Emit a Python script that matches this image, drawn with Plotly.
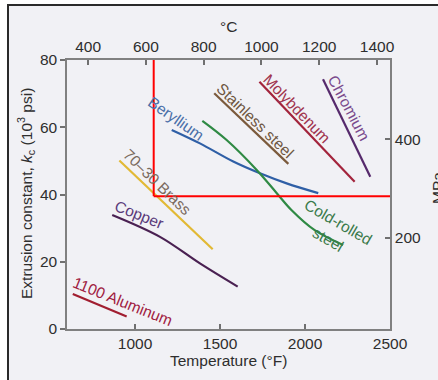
import plotly.graph_objects as go

# ---- data (°F, 10^3 psi) ----
beryllium_F = [1216, 1382, 1578, 1735, 1892, 2078]
beryllium_k = [59.2, 55.2, 49.8, 46.3, 43.3, 40.4]
coldrolled_F = [1396, 1539, 1716, 1834, 1920, 2057, 2224]
coldrolled_k = [61.9, 56.2, 47.3, 40.4, 35.4, 29.4, 25.0]
stainless_F = [1466, 1902]
stainless_k = [70.1, 49.1]
molybdenum_F = [1732, 2292]
molybdenum_k = [73.5, 43.8]
chromium_F = [2106, 2384]
chromium_k = [74.3, 45.3]
brass_F = [908, 1457]
brass_k = [50.1, 23.7]
copper_F = [866, 1147, 1382, 1604]
copper_k = [33.9, 27.4, 19.5, 12.6]
aluminum_F = [634, 951]
aluminum_k = [10.4, 3.7]

f_ticks = [1000, 1500, 2000, 2500]
k_ticks = [0, 20, 40, 60, 80]
c_ticks = [400, 600, 800, 1000, 1200, 1400]
mpa_ticks = [200, 400]

FONT = "Liberation Sans, Arial, Helvetica, sans-serif"

series = [
    (beryllium_F, beryllium_k, "#2f5fa6", "spline"),
    (coldrolled_F, coldrolled_k, "#2f8a44", "spline"),
    (stainless_F, stainless_k, "#7b5a3c", "linear"),
    (molybdenum_F, molybdenum_k, "#a3243c", "linear"),
    (chromium_F, chromium_k, "#562a6c", "linear"),
    (brass_F, brass_k, "#e2b934", "linear"),
    (copper_F, copper_k, "#4a2152", "spline"),
    (aluminum_F, aluminum_k, "#a11e30", "linear"),
]

fig = go.Figure()
for xs, ys, col, shp in series:
    fig.add_trace(go.Scatter(x=xs, y=ys, mode="lines",
                             line=dict(color=col, width=2.2, shape=shp, smoothing=1.0),
                             showlegend=False, hoverinfo="skip"))
# dummy trace for secondary axes
fig.add_trace(go.Scatter(x=[], y=[], xaxis="x2", yaxis="y2", showlegend=False))

labels = [
    ("Beryllium", 1241, 62.5, 35, "#4a6fa8"),
    ("Stainless steel", 1706, 61.9, 44, "#6e5640"),
    ("Molybdenum", 1953, 65.7, 46, "#a0344e"),
    ("Chromium", 2259, 66.0, 62, "#7a4a8c"),
    ("Cold-rolled<br>steel", 2165, 29.4, 30, "#3a7a4a"),
    ("70–30 Brass", 1135, 43.7, 44, "#7a6a5e"),
    ("Copper", 1024, 34.2, 22, "#5a3a7a"),
    ("1100 Aluminum", 929, 8.3, 22, "#a02040"),
]
for txt, x, y, ang, col in labels:
    fig.add_annotation(x=x, y=y, xref="x", yref="y", text=txt, showarrow=False,
                       textangle=ang, font=dict(family=FONT, size=15.5, color=col),
                       xanchor="center", yanchor="middle")

# axis titles as annotations (paper coords)
L, R, T, B = 67, 390, 60, 329
W, H = R - L, B - T
def px(xp, yp):
    return (xp - L) / W, (B - yp) / H

for txt, (xp, yp), ang in [
    ("°C", (228, 27), 0),
    ("Temperature (°F)", (228, 360), 0),
    ("Extrusion constant, <i>k</i><sub>c</sub> (10<sup>3</sup> psi)", (26, 194), -90),
    ("MPa", (437, 188), -90),
]:
    ax, ay = px(xp, yp)
    fig.add_annotation(x=ax, y=ay, xref="paper", yref="paper", text=txt, showarrow=False,
                       textangle=ang, font=dict(family=FONT, size=15.5, color="#2e2e2e"),
                       xanchor="center", yanchor="middle")

# background panel inside the outer frame
lx, _ = px(8, 0)
_, ty = px(0, 5)
_, by = px(0, 400)
rx, _ = px(450, 0)
fig.add_shape(type="rect", xref="paper", yref="paper", x0=lx, x1=rx, y0=by, y1=ty,
              fillcolor="#f1f1f5", line=dict(width=0), layer="below")

# red guide lines
fig.add_shape(type="line", xref="x", yref="y", x0=1110, x1=1110, y0=39.5, y1=81.5,
              line=dict(color="#ff0000", width=2))
fig.add_shape(type="line", xref="x", yref="y", x0=1110, x1=2524, y0=39.5, y1=39.5,
              line=dict(color="#ff0000", width=2))

# outer frame (left and top edges)
fig.add_shape(type="path", xref="paper", yref="paper",
              path=f"M {lx} {by} L {lx} {ty} L {rx} {ty}",
              line=dict(color="#2a2a2a", width=2))

axis_common = dict(showgrid=False, zeroline=False, showline=True, linecolor="#808080",
                   linewidth=1.5, tickcolor="#707070", tickwidth=1.5, ticklen=5,
                   tickfont=dict(family=FONT, size=15.5, color="#2e2e2e"))

fig.update_layout(
    width=438, height=380,
    margin=dict(l=L, r=438 - R, t=T, b=380 - B),
    paper_bgcolor="#ffffff", plot_bgcolor="rgba(0,0,0,0)",
    showlegend=False,
    xaxis=dict(range=[600, 2500], tickvals=f_ticks, ticks="inside", side="bottom", **axis_common),
    yaxis=dict(range=[0, 80], tickvals=k_ticks, ticks="outside", side="left", **axis_common),
    xaxis2=dict(range=[327, 1445], tickvals=c_ticks, ticks="inside", side="top",
                overlaying="x", anchor="y", **axis_common),
    yaxis2=dict(range=[16, 560], tickvals=mpa_ticks, ticks="inside", side="right",
                overlaying="y", anchor="x", **axis_common),
)

fig.write_html("out.html", config={"displayModeBar": False},
               post_script="document.body.style.margin='0';document.body.style.overflow='hidden';")
